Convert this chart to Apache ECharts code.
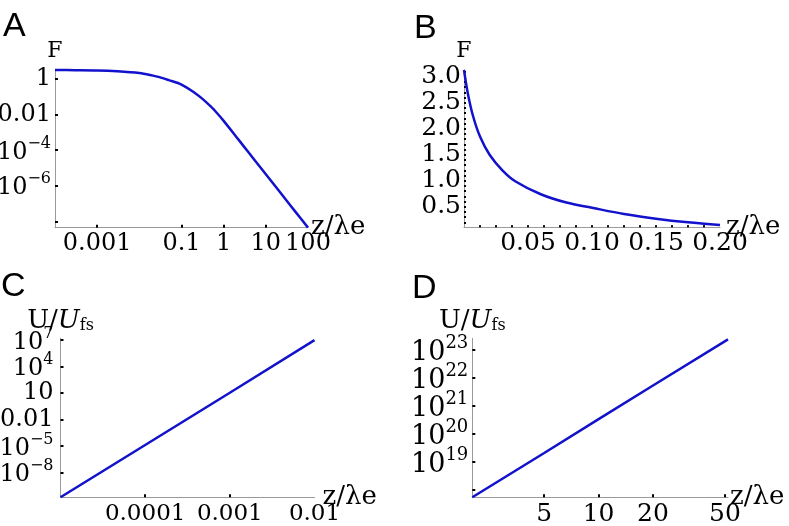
<!DOCTYPE html>
<html><head><meta charset="utf-8">
<script src="https://cdn.jsdelivr.net/npm/echarts@6/dist/echarts.min.js"></script>
<style>html,body{margin:0;padding:0;background:#fff}#c{width:789px;height:526px}</style>
</head><body><div id="c"></div>
<script>
// ---- Panel A : F vs z/λe (log-log) ----
const aZ = [1e-4, 3e-4, 1e-3, 3e-3, 0.01, 0.02, 0.03, 0.05, 0.1, 0.2, 0.3, 0.5, 0.7, 1, 2, 3, 5, 10, 20, 30, 50, 100];
const aF = [3.14, 3.09, 2.99, 2.69, 2.14, 1.58, 1.26, 0.85, 0.48, 0.174, 0.083, 0.0275, 0.0117, 0.0044, 5.5e-4, 1.62e-4, 3.5e-5, 4.4e-6, 5.5e-7, 1.62e-7, 3.5e-8, 4.4e-9];
const aXTicks = [0.001, 0.1, 1, 10, 100];
const aXLabels = ['0.001', '0.1', '1', '10', '100'];
const aYTicks = [1, 0.01, 1e-4, 1e-6, 1e-8];
const aYLabels = ['1', '0.01', '10^−4', '10^−6', ''];
// ---- Panel B : F vs z/λe (linear) ----
const bZ = [0, 0.003, 0.007, 0.0125, 0.02, 0.03, 0.04, 0.06, 0.08, 0.1, 0.125, 0.15, 0.175, 0.2];
const bF = [3.13, 2.68, 2.25, 1.85, 1.50, 1.20, 0.99, 0.74, 0.58, 0.48, 0.36, 0.27, 0.20, 0.148];
const bXTicks = [0.05, 0.10, 0.15, 0.20];
const bXLabels = ['0.05', '0.10', '0.15', '0.20'];
const bYTicks = [0.5, 1.0, 1.5, 2.0, 2.5, 3.0];
const bYLabels = ['0.5', '1.0', '1.5', '2.0', '2.5', '3.0'];
// ---- Panel C : U/Ufs vs z/λe (log-log) ----
const cZ = [1e-5, 1e-4, 1e-3, 1e-2];
const cU = [1.6e-11, 1.3e-5, 11, 1e7];
const cXTicks = [1e-4, 1e-3, 1e-2];
const cXLabels = ['0.0001', '0.001', '0.01'];
const cYTicks = [1e7, 1e4, 10, 0.01, 1e-5, 1e-8];
const cYLabels = ['10^7', '10^4', '10', '0.01', '10^−5', '10^−8'];
// ---- Panel D : U/Ufs vs z/λe (log-log) ----
const dZ = [2, 5, 10, 20, 52];
const dU = [5.5e17, 2.1e19, 3.4e20, 5.4e21, 2.4e23];
const dXTicks = [5, 10, 20, 50];
const dXLabels = ['5', '10', '20', '50'];
const dYTicks = [1e23, 1e22, 1e21, 1e20, 1e19, 1e18];
const dYLabels = ['10^23', '10^22', '10^21', '10^20', '10^19', ''];

const SERIF = 'DejaVu Serif';
const SANS = 'Liberation Sans';
const lg = Math.log10;
const BLUE = '#1212cc';

function richLabel(t) {
  if (!t) return '';
  const i = t.indexOf('^');
  if (i < 0) return '{b|' + t + '}';
  return '{e|' + t.slice(0, i) + '}{s|' + t.slice(i + 1) + '}';
}
function richStyles(fs, sfs) {
  return {
    b: { fontSize: fs, fontFamily: SERIF, color: '#000' },
    e: { fontSize: fs, fontFamily: SERIF, color: '#000', padding: [5, 0, 0, 0], verticalAlign: 'bottom' },
    s: { fontSize: sfs, fontFamily: SERIF, color: '#000', verticalAlign: 'top' }
  };
}
function makeAxis(grid, min, max, ticks, labels, isLog, o) {
  const pos = isLog ? ticks.map(lg) : ticks.slice();
  const tickPos = o.tickPos ? o.tickPos : pos;
  // blank entries at the extent ends so the real end labels are never treated as min/max labels
  const labelPos = [min].concat(pos, [max]);
  return {
    gridIndex: grid, type: 'value', min: min, max: max,
    axisLine: { show: true, onZero: false, lineStyle: { color: '#9a9a9a', width: 1 } },
    axisTick: { show: true, inside: true, length: o.tickLen || 3, customValues: tickPos,
      lineStyle: { color: '#000', width: 2 } },
    axisLabel: {
      customValues: labelPos, margin: o.margin, showMinLabel: false, showMaxLabel: false, hideOverlap: false,
      formatter: function (v) {
        for (let i = 0; i < pos.length; i++) if (Math.abs(pos[i] - v) < 1e-9) return richLabel(labels[i]);
        return '';
      },
      rich: richStyles(o.fs, o.sfs), fontFamily: SERIF, fontSize: o.fs, color: '#000'
    },
    splitLine: { show: false },
    name: o.name, nameLocation: 'end', nameGap: o.nameGap, nameMoveOverlap: false,
    nameTextStyle: o.nameStyle
  };
}
const xName = { fontFamily: SERIF, fontSize: 26, color: '#000', verticalAlign: 'middle', padding: [4, 0, 0, 0] };
const fName = { fontFamily: SERIF, fontSize: 22, color: '#000' };
const uName = { fontFamily: SERIF, fontSize: 26, color: '#000',
  rich: {
    n: { fontFamily: SERIF, fontSize: 26, color: '#000' },
    i: { fontFamily: SERIF, fontSize: 26, fontStyle: 'italic', color: '#000' },
    sub: { fontFamily: SERIF, fontSize: 16, color: '#000', verticalAlign: 'bottom' }
  } };
const uText = '{n|U/}{i|U}{sub|fs}';

// dense tick positions for panel B (minor dots)
const bXDots = []; for (let k = 1; k <= 16; k++) bXDots.push(+(k * 0.0125).toFixed(4));
const bYDots = []; for (let k = 2; k <= 31; k++) bYDots.push(+(k * 0.1).toFixed(2));

const option = {
  backgroundColor: '#fff',
  animation: false,
  grid: [
    { left: 55, top: 70, width: 253, height: 157.7, outerBoundsMode: 'none' },
    { left: 464, top: 70, width: 256, height: 157.3, outerBoundsMode: 'none' },
    { left: 60.5, top: 338.3, width: 254, height: 159, outerBoundsMode: 'none' },
    { left: 472.3, top: 338.3, width: 255.7, height: 159, outerBoundsMode: 'none' }
  ],
  xAxis: [
    makeAxis(0, -4, 2, aXTicks, aXLabels, true, { margin: 4, fs: 24, sfs: 16, name: 'z/λe', nameGap: 3, nameStyle: xName }),
    makeAxis(1, 0, 0.2, bXTicks, bXLabels, false, { margin: 4, fs: 25, sfs: 16, tickPos: bXDots, tickLen: 2, name: 'z/λe', nameGap: 6, nameStyle: xName }),
    makeAxis(2, -5, -2, cXTicks, cXLabels, true, { margin: 5, fs: 23, sfs: 16, name: 'z/λe', nameGap: 8, nameStyle: xName }),
    makeAxis(3, lg(2), lg(52), dXTicks, dXLabels, true, { margin: 5, fs: 25, sfs: 16, name: 'z/λe', nameGap: 2, nameStyle: xName })
  ],
  yAxis: [
    makeAxis(0, -8.36, 0.5, aYTicks, aYLabels, true, { margin: 4, fs: 24, sfs: 16, name: 'F', nameGap: 8, nameStyle: fName }),
    makeAxis(1, 0.104, 3.13, bYTicks, bYLabels, false, { margin: 3, fs: 25, sfs: 16, tickPos: bYDots, tickLen: 2, name: 'F', nameGap: 8, nameStyle: fName }),
    makeAxis(2, -10.8, 7.2, cYTicks, cYLabels, true, { margin: 7, fs: 24, sfs: 16, name: uText, nameGap: 4, nameStyle: uName }),
    makeAxis(3, 17.74, 23.42, dYTicks, dYLabels, true, { margin: 4, fs: 27, sfs: 18, name: uText, nameGap: 4, nameStyle: uName })
  ],
  series: [
    { type: 'line', xAxisIndex: 0, yAxisIndex: 0, data: aZ.map((z, i) => [lg(z), lg(aF[i])]),
      showSymbol: false, smooth: 0.3, lineStyle: { color: BLUE, width: 2.5 }, clip: false },
    { type: 'line', xAxisIndex: 1, yAxisIndex: 1, data: bZ.map((z, i) => [z, bF[i]]),
      showSymbol: false, smooth: 0.35, lineStyle: { color: BLUE, width: 2.5 }, clip: false },
    { type: 'line', xAxisIndex: 2, yAxisIndex: 2, data: cZ.map((z, i) => [lg(z), lg(cU[i])]),
      showSymbol: false, lineStyle: { color: BLUE, width: 2.5 }, clip: false },
    { type: 'line', xAxisIndex: 3, yAxisIndex: 3, data: dZ.map((z, i) => [lg(z), lg(dU[i])]),
      showSymbol: false, lineStyle: { color: BLUE, width: 2.5 }, clip: false }
  ],
  graphic: [
    { type: 'text', left: 3, top: 10, style: { text: 'A', fontFamily: SANS, fontSize: 34, fill: '#000' } },
    { type: 'text', left: 414, top: 12, style: { text: 'B', fontFamily: SANS, fontSize: 34, fill: '#000' } },
    { type: 'text', left: 1, top: 270, style: { text: 'C', fontFamily: SANS, fontSize: 34, fill: '#000' } },
    { type: 'text', left: 412, top: 272, style: { text: 'D', fontFamily: SANS, fontSize: 34, fill: '#000' } }
  ]
};
const chart = echarts.init(document.getElementById('c'), null, { renderer: 'canvas' });
chart.setOption(option);
</script></body></html>
